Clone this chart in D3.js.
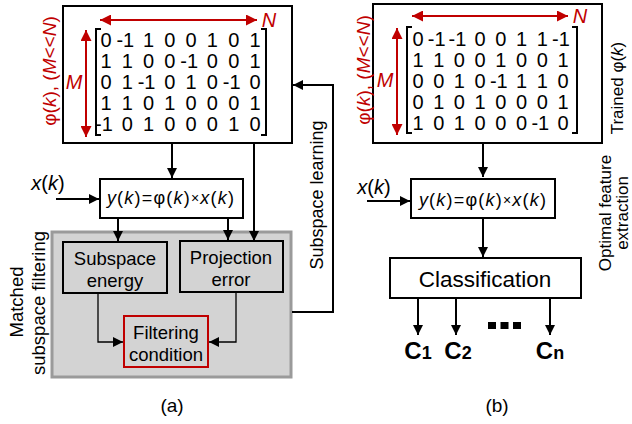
<!DOCTYPE html>
<html><head><meta charset="utf-8">
<script src="https://cdn.jsdelivr.net/npm/d3@7"></script>
<style>body{margin:0;background:#fff}svg{display:block}text{font-family:"Liberation Sans",Arial,sans-serif}</style>
</head><body><svg id="c" width="632" height="424"></svg>
<script>
const matrixA = [
  [0,-1,1,0,0,1,0,1],
  [1,1,0,0,-1,0,0,1],
  [0,1,-1,0,1,0,-1,0],
  [1,1,0,1,0,0,0,1],
  [-1,0,1,0,0,0,1,0]
];
const matrixB = [
  [0,-1,-1,0,0,1,1,-1],
  [1,1,0,0,1,0,0,1],
  [0,0,1,0,-1,1,1,0],
  [0,1,0,1,0,0,0,1],
  [1,0,1,0,0,0,-1,0]
];
const classes = [["C","1"],["C","2"],["C","n"]];
const panelLabels = ["(a)","(b)"];

const svg = d3.select("#c");
const RED = "#c00000";
const defs = svg.append("defs");
function marker(id, color, w, h){
  defs.append("marker").attr("id",id).attr("viewBox","0 0 10 10").attr("refX",10).attr("refY",5)
    .attr("markerUnits","userSpaceOnUse").attr("markerWidth",w).attr("markerHeight",h).attr("orient","auto-start-reverse")
    .append("path").attr("d","M0,0L10,5L0,10Z").attr("fill",color);
}
marker("ab","#000",11,10);
marker("ar",RED,12,11);

function line(pts, opts={}){
  const p = svg.append("path").attr("d", d3.line()(pts)).attr("fill","none")
    .attr("stroke",opts.color||"#000").attr("stroke-width",opts.w||2);
  if(opts.end) p.attr("marker-end","url(#"+opts.end+")");
  if(opts.start) p.attr("marker-start","url(#"+opts.start+")");
  return p;
}
function rect(x,y,w,h,opts={}){
  return svg.append("rect").attr("x",x).attr("y",y).attr("width",w).attr("height",h)
    .attr("fill",opts.fill||"#fff").attr("stroke",opts.stroke||"#000").attr("stroke-width",opts.sw||2);
}
function text(x,y,s,opts={}){
  const t = svg.append("text").attr("x",x).attr("y",y).attr("text-anchor",opts.anchor||"middle")
    .attr("dominant-baseline","central").attr("font-size",opts.size||17).attr("fill",opts.color||"#000");
  if(opts.rot) t.attr("transform",`rotate(${opts.rot},${x},${y})`);
  if(opts.bold) t.attr("font-weight","bold");
  if(opts.italic) t.attr("font-style","italic");
  t.text(s);
  return t;
}
function rich(x,y,parts,opts={}){
  const t = svg.append("text").attr("x",x).attr("y",y).attr("text-anchor",opts.anchor||"middle")
    .attr("dominant-baseline","central").attr("font-size",opts.size||17).attr("fill",opts.color||"#000");
  if(opts.rot) t.attr("transform",`rotate(${opts.rot},${x},${y})`);
  if(opts.ls) t.attr("letter-spacing",opts.ls);
  parts.forEach(p=>{
    const ts = t.append("tspan").text(p[0]);
    if(p[1]) ts.attr("font-style","italic");
    if(p[2]) ts.attr("font-size",p[2]);
  });
  return t;
}

function matrixPanel(M, o){
  rect(o.bx, o.by, o.bw, o.bh);
  const xs = d3.scalePoint().domain(d3.range(M[0].length)).range(o.xr);
  const ys = d3.scalePoint().domain(d3.range(M.length)).range(o.yr);
  M.forEach((row,i)=>row.forEach((v,j)=>{
    text(xs(j) - (v<0?2:0), ys(i), String(v), {size:20});
  }));
  const [bt,bb] = o.br;
  line([[o.lb+5,bt],[o.lb,bt],[o.lb,bb],[o.lb+5,bb]],{w:2});
  line([[o.rb-5,bt],[o.rb,bt],[o.rb,bb],[o.rb-5,bb]],{w:2});
  line([[o.nx[0],o.ny],[o.nx[1],o.ny]],{color:RED,w:2,start:"ar",end:"ar"});
  text(o.nx[1]+12, o.ny, "N", {size:20, italic:true, color:RED});
  line([[o.mx,o.my[0]],[o.mx,o.my[1]]],{color:RED,w:2,start:"ar",end:"ar"});
  text(o.mx-12, (o.my[0]+o.my[1])/2-2, "M", {size:20, italic:true, color:RED});
  rich(o.lx, o.ly, [["φ(",0],["k",1],["), (",0],["M",1],["<<",0],["N",1],[")",0]], {size:19, color:RED, rot:-90});
}

// ---------- Panel (a) ----------
matrixPanel(matrixA, {bx:63,by:6,bw:229,bh:137, xr:[106,255], yr:[40,124], lb:96, rb:266, br:[29,135],
  nx:[100,257], ny:20, mx:86, my:[30,137], lx:49, ly:71});

rect(52,232,239,145,{fill:"#d3d3d3",stroke:"#9a9a9a",sw:3});

line([[172,143],[172,178]],{end:"ab"});
line([[254,143],[254,241]],{end:"ab"});

rect(100,179,143,39);
rich(171,198,[["y",1],["(",0],["k",1],[")=φ(",0],["k",1],[")",0],["×",0,14],["x",1],["(",0],["k",1],[")",0]],{size:18,ls:1.2});
rich(48,183,[["x",1],["(",0],["k",1],[")",0]],{size:20});
line([[56,199],[99,199]],{end:"ab"});

line([[118,218],[118,241]],{end:"ab"});
line([[228,218],[228,240]],{end:"ab"});

rect(63,242,104,51,{fill:"#d3d3d3"});
text(115,258,"Subspace",{size:18.5});
text(115,280,"energy",{size:18.5});
rect(180,241,103,51,{fill:"#d3d3d3"});
text(231,257,"Projection",{size:18.5});
text(231,279,"error",{size:18.5});

rect(124,316,84,51,{fill:"#d3d3d3",stroke:RED,sw:2});
text(166,332,"Filtering",{size:18.5});
text(166,354,"condition",{size:18.5});

line([[98,293],[98,342],[123,342]],{w:1.3,end:"ab"});
line([[236,292],[236,342],[209,342]],{w:1.3,end:"ab"});

line([[292,312],[333,312],[333,85],[293,85]],{w:2,end:"ab"});
text(317,195,"Subspace learning",{size:18,rot:-90});

text(16,302,"Matched",{size:18.5,rot:-90});
text(38,303,"subspace filtering",{size:18.5,rot:-90});

text(172,405,panelLabels[0],{size:19});

// ---------- Panel (b) ----------
matrixPanel(matrixB, {bx:373,by:4,bw:229,bh:139, xr:[418,563], yr:[39,123], lb:407, rb:577, br:[27,133],
  nx:[412,568], ny:16, mx:397, my:[28,135], lx:363, ly:70});
rich(617,88,[["Trained φ(",0],["k",1],[")",0]],{size:17,rot:-90});

line([[483,143],[483,177]],{end:"ab"});
rect(411,179,144,39);
rich(483,200,[["y",1],["(",0],["k",1],[")=φ(",0],["k",1],[")",0],["×",0,14],["x",1],["(",0],["k",1],[")",0]],{size:18,ls:1.2});
rich(374,187,[["x",1],["(",0],["k",1],[")",0]],{size:20});
line([[367,201],[410,201]],{end:"ab"});

line([[483,218],[483,257]],{end:"ab"});
rect(390,258,191,40);
text(485,279,"Classification",{size:22.5});

const cx = [418,456,550];
const cTextX = [418,458,550];
classes.forEach((c,i)=>{
  line([[cx[i],298],[cx[i],335]],{end:"ab"});
  const t = svg.append("text").attr("x",cTextX[i]).attr("y",359).attr("text-anchor","middle")
    .attr("dominant-baseline","alphabetic").attr("font-weight","bold").attr("font-size",24);
  t.append("tspan").text(c[0]);
  t.append("tspan").attr("font-size",18).text(c[1]);
});
svg.selectAll("rect.dot").data([0,1,2]).enter().append("rect").attr("class","dot")
  .attr("x",d=>488+d*12.5).attr("y",322).attr("width",8).attr("height",7).attr("fill","#000");

text(605,213,"Optimal feature",{size:17,rot:-90});
text(622,213,"extraction",{size:17,rot:-90});

text(497,405,panelLabels[1],{size:19});
</script></body></html>
